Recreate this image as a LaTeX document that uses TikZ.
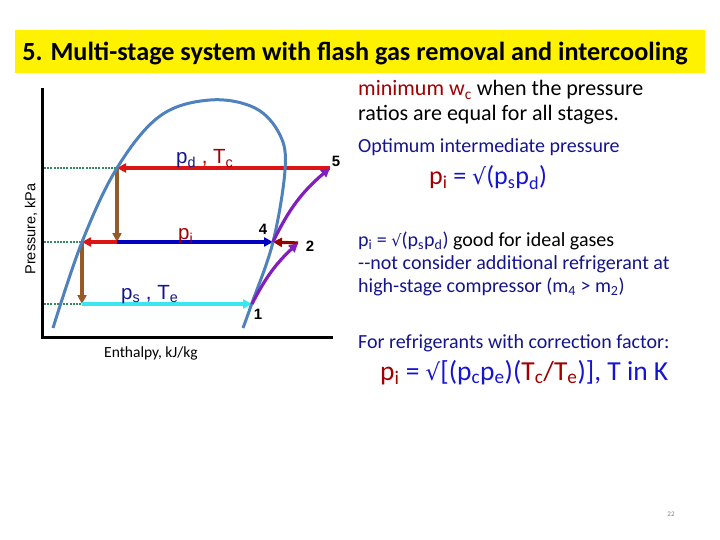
\documentclass[tikz,border=0pt]{standalone}
\usepackage{fontspec}
\setmainfont{Carlito}
\newfontfamily\arialfont{Liberation Sans}
\newfontfamily\dejavu{DejaVu Sans}
\usetikzlibrary{arrows.meta}

\definecolor{curveblue}{RGB}{79,129,189}
\definecolor{arrred}{RGB}{220,20,20}
\definecolor{brownarr}{RGB}{150,90,40}
\definecolor{lineblue}{RGB}{0,0,190}
\definecolor{cyanarr}{RGB}{60,230,240}
\definecolor{darkredarr}{RGB}{150,0,0}
\definecolor{purplearr}{RGB}{130,30,190}
\definecolor{dotgreen}{RGB}{50,140,90}
\definecolor{txtred}{RGB}{160,0,0}
\definecolor{txtnavy}{RGB}{20,20,140}
\definecolor{txtblue}{RGB}{20,20,210}

\newcommand{\rootsym}{{\dejavu\char"221A}}

\tikzset{
  flow/.style={line width=3.2pt, -{Triangle[length=9pt,width=9pt]}},
  guide/.style={dotgreen, line width=2.6pt, dash pattern=on 2pt off 1.2pt},
  ptlabel/.style={font=\arialfont\bfseries\fontsize{15}{17}\selectfont},
  txt/.style={anchor=base west, inner sep=0pt},
}

\begin{document}
\begin{tikzpicture}[x=1pt,y=-1pt]
\useasboundingbox (0,0) rectangle (720,540);
% title bar
\fill[yellow] (15,30) rectangle (705,73);
\node[font=\bfseries\fontsize{26.2}{30}\selectfont, anchor=base] (title) at (355,61) {5. Multi-stage system with flash gas removal and intercooling};

% axes
\draw[line width=3.6pt] (42.5,88) -- (42.5,337.5) -- (333,337.5);
\node[rotate=90, font=\arialfont\fontsize{14.5}{16}\selectfont] (ylab) at (31,229) {Pressure, kPa};
\node[font=\fontsize{15.5}{18}\selectfont] (xlab) at (151,353) {Enthalpy, kJ/kg};

% state points
\coordinate (c3) at (117,168);
\coordinate (c3b) at (117,242);
\coordinate (c6) at (82,242);
\coordinate (c7) at (82,304);
\coordinate (p1) at (252,304);
\coordinate (p2) at (298,243);
\coordinate (p4) at (273,242);
\coordinate (p5) at (330,168);
\coordinate (ad) at (44,168);
\coordinate (ai) at (44,242);
\coordinate (as) at (44,304);

% pressure levels
\draw[guide] (ad) -- (c3);
\draw[guide] (ai) -- (c6);
\draw[guide] (as) -- (c7);

\draw[flow, arrred] (p5) -- (c3);
\draw[flow, brownarr] (c3) -- (c3b);
\draw[flow, arrred] (c3b) -- (c6);
\draw[flow, lineblue] (c3b) -- (p4);
\draw[flow, darkredarr] (p2) -- (p4);
\draw[flow, brownarr] (c6) -- (c7);
\draw[flow, cyanarr] (c7) -- (p1);

% saturation dome
\draw[curveblue, line width=3pt] plot[smooth, tension=0.6] coordinates {(53,328) (82,242) (117,168) (160,116) (210,100) (255,108) (280,135) (285,170) (273,242) (252,303) (243,328)};

% compression
\draw[flow, purplearr] (p1) to[bend left=10] (p2);
\draw[flow, purplearr] (p4) to[bend left=12] (p5);

\node[ptlabel] (n5) at (336,161) {5};
\node[ptlabel] (n4) at (263,229) {4};
\node[ptlabel] (n2) at (310,246) {2};
\node[ptlabel] (n1) at (258,314) {1};

\node[txt, font=\arialfont\fontsize{20.5}{23}\selectfont] (lpd) at (176,164) {\textcolor{txtnavy}{p\textsubscript{d}} \textcolor{txtred}{, T\textsubscript{c}}};
\node[txt, font=\arialfont\fontsize{20.5}{23}\selectfont, txtred] (lpi) at (178,240) {p\textsubscript{i}};
\node[txt, font=\arialfont\fontsize{20.5}{23}\selectfont, txtnavy] (lps) at (121,299) {p\textsubscript{s} , T\textsubscript{e}};

% notes
\node[txt, font=\fontsize{22}{25}\selectfont] (note1) at (358,96) {\textcolor{txtred}{minimum w\textsubscript{c}} when the pressure};
\node[txt, font=\fontsize{22}{25}\selectfont] (note2) at (358,121) {ratios are equal for all stages.};
\node[txt, font=\fontsize{20}{24}\selectfont, txtnavy] (opt) at (358,153) {Optimum intermediate pressure};
\node[txt, font=\fontsize{26}{30}\selectfont] (form1) at (429,185) {\textcolor{txtred}{p\textsubscript{i}} \textcolor{txtblue}{= {\fontsize{22}{26}\selectfont\rootsym}(p\textsubscript{s}p\textsubscript{d})}};
\node[txt, font=\fontsize{20}{24}\selectfont] (ideal1) at (358,246) {\textcolor{txtnavy}{p\textsubscript{i} = {\fontsize{16}{20}\selectfont\rootsym}(p\textsubscript{s}p\textsubscript{d})} good for ideal gases};
\node[txt, font=\fontsize{20}{24}\selectfont, txtnavy] (ideal2) at (358,269) {-{}-not consider additional refrigerant at};
\node[txt, font=\fontsize{20}{24}\selectfont, txtnavy] (ideal3) at (358,292) {high-stage compressor (m\textsubscript{4} > m\textsubscript{2})};
\node[txt, font=\fontsize{20}{24}\selectfont, txtnavy] (corr) at (358,348) {For refrigerants with correction factor:};
\node[txt, font=\fontsize{27.5}{31}\selectfont, txtblue] (form2) at (380,380) {\textcolor{txtred}{p\textsubscript{i}} = {\fontsize{23}{27}\selectfont\rootsym}[(p\textsubscript{c}p\textsubscript{e})(\textcolor{txtred}{T\textsubscript{c}/T\textsubscript{e}})], T in K};

\node[font=\fontsize{7}{8}\selectfont, gray] (pg) at (671,514) {22};
\end{tikzpicture}
\end{document}
